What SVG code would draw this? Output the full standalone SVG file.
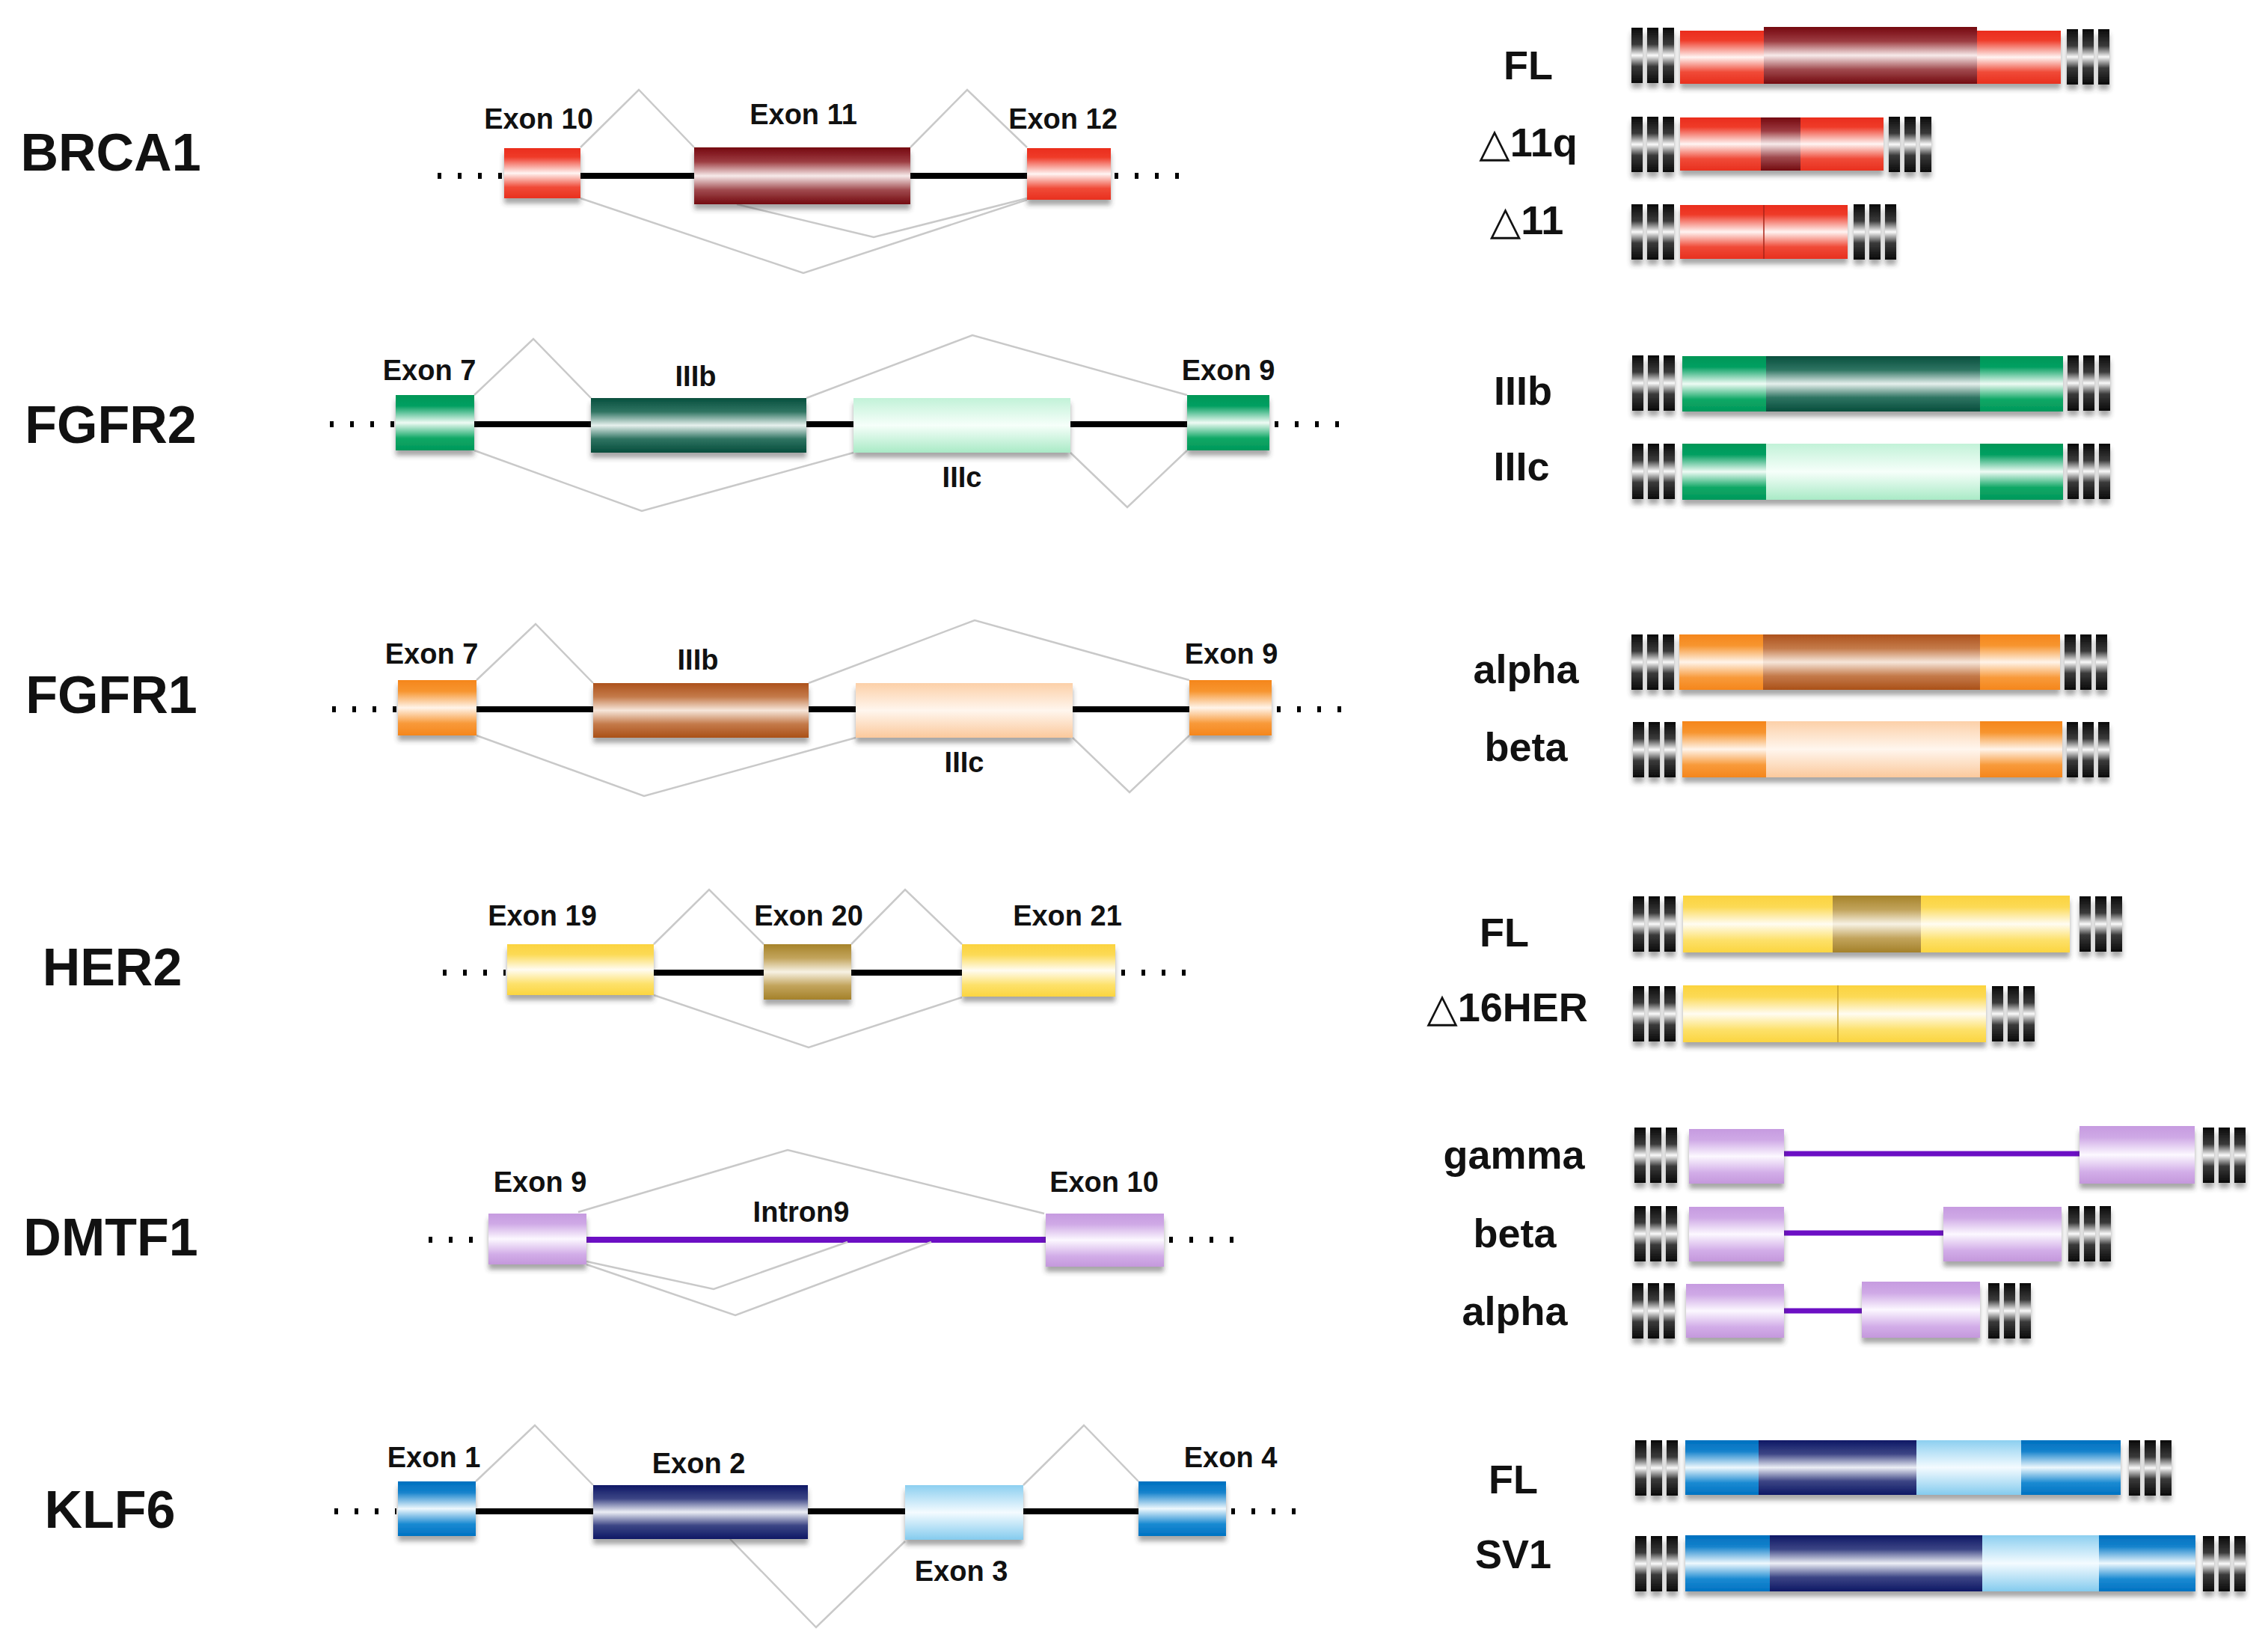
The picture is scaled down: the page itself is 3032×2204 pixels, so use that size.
<svg xmlns="http://www.w3.org/2000/svg" xmlns:xlink="http://www.w3.org/1999/xlink" width="3032" height="2204" viewBox="0 0 3032 2204">
<style>
.gene{font-family:"Liberation Sans",Arial,sans-serif;font-weight:bold;font-size:70px;text-anchor:middle;fill:#111}
.ex{font-family:"Liberation Sans",Arial,sans-serif;font-weight:bold;font-size:38px;text-anchor:middle;fill:#111}
.iso{font-family:"Liberation Sans",Arial,sans-serif;font-weight:bold;font-size:54px;text-anchor:middle;fill:#111}
.tri{font-family:"DejaVu Sans",sans-serif;font-weight:normal}
.splice{fill:none;stroke:#c9c9c9;stroke-width:2.5;stroke-linejoin:miter}
.intron{stroke:#000;stroke-width:8}
.pintron{stroke:#6c0fc4;stroke-width:8}
.dots{stroke:#000;stroke-width:8;stroke-dasharray:5 22}
.bx{filter:url(#sh)}
</style>
<defs>
<filter id="sh" x="-10%" y="-20%" width="120%" height="160%">
<feDropShadow dx="0" dy="7" stdDeviation="3" flood-color="#3a3a3a" flood-opacity="0.45"/>
</filter>
<linearGradient id="gRed" x1="0" y1="0" x2="0" y2="1"><stop offset="0" stop-color="#ea2d1d"/><stop offset="0.18" stop-color="#ef3b29"/><stop offset="0.5" stop-color="#fff4f2"/><stop offset="0.78" stop-color="#f04a37"/><stop offset="1" stop-color="#e8301f"/></linearGradient>
<linearGradient id="gDRed" x1="0" y1="0" x2="0" y2="1"><stop offset="0" stop-color="#750810"/><stop offset="0.25" stop-color="#9c3b40"/><stop offset="0.5" stop-color="#f7eaea"/><stop offset="0.75" stop-color="#a04a4e"/><stop offset="1" stop-color="#730a10"/></linearGradient>
<linearGradient id="gGreen" x1="0" y1="0" x2="0" y2="1"><stop offset="0" stop-color="#009656"/><stop offset="0.2" stop-color="#06a062"/><stop offset="0.5" stop-color="#eefbf4"/><stop offset="0.78" stop-color="#10a866"/><stop offset="1" stop-color="#00985a"/></linearGradient>
<linearGradient id="gDGreen" x1="0" y1="0" x2="0" y2="1"><stop offset="0" stop-color="#074f3e"/><stop offset="0.25" stop-color="#2f7462"/><stop offset="0.5" stop-color="#e6f0ed"/><stop offset="0.75" stop-color="#2f7462"/><stop offset="1" stop-color="#064d3c"/></linearGradient>
<linearGradient id="gMint" x1="0" y1="0" x2="0" y2="1"><stop offset="0" stop-color="#c2f2d8"/><stop offset="0.5" stop-color="#f6fffa"/><stop offset="1" stop-color="#a9eac6"/></linearGradient>
<linearGradient id="gOrange" x1="0" y1="0" x2="0" y2="1"><stop offset="0" stop-color="#f5861c"/><stop offset="0.2" stop-color="#f7952f"/><stop offset="0.5" stop-color="#fff4ea"/><stop offset="0.78" stop-color="#f89a3a"/><stop offset="1" stop-color="#f5861c"/></linearGradient>
<linearGradient id="gBrown" x1="0" y1="0" x2="0" y2="1"><stop offset="0" stop-color="#ad521c"/><stop offset="0.25" stop-color="#c47a4a"/><stop offset="0.5" stop-color="#f6e6da"/><stop offset="0.75" stop-color="#c47a4a"/><stop offset="1" stop-color="#aa5018"/></linearGradient>
<linearGradient id="gPeach" x1="0" y1="0" x2="0" y2="1"><stop offset="0" stop-color="#fcd0a8"/><stop offset="0.5" stop-color="#fff6ee"/><stop offset="1" stop-color="#fbc99c"/></linearGradient>
<linearGradient id="gYellow" x1="0" y1="0" x2="0" y2="1"><stop offset="0" stop-color="#fbd33f"/><stop offset="0.2" stop-color="#fcda55"/><stop offset="0.5" stop-color="#fffcf2"/><stop offset="0.78" stop-color="#fde16a"/><stop offset="1" stop-color="#fbd540"/></linearGradient>
<linearGradient id="gGold" x1="0" y1="0" x2="0" y2="1"><stop offset="0" stop-color="#a6832a"/><stop offset="0.25" stop-color="#c2a45c"/><stop offset="0.5" stop-color="#f7f2e4"/><stop offset="0.75" stop-color="#c2a45c"/><stop offset="1" stop-color="#a4812a"/></linearGradient>
<linearGradient id="gLav" x1="0" y1="0" x2="0" y2="1"><stop offset="0" stop-color="#c69be0"/><stop offset="0.2" stop-color="#cfa9e6"/><stop offset="0.5" stop-color="#fcf8ff"/><stop offset="0.8" stop-color="#d2ade8"/><stop offset="1" stop-color="#c498dc"/></linearGradient>
<linearGradient id="gBlue" x1="0" y1="0" x2="0" y2="1"><stop offset="0" stop-color="#0070bf"/><stop offset="0.2" stop-color="#1482cc"/><stop offset="0.5" stop-color="#eef8fd"/><stop offset="0.78" stop-color="#1a8ad2"/><stop offset="1" stop-color="#0072c2"/></linearGradient>
<linearGradient id="gNavy" x1="0" y1="0" x2="0" y2="1"><stop offset="0" stop-color="#0e1865"/><stop offset="0.25" stop-color="#3c4585"/><stop offset="0.5" stop-color="#eceef5"/><stop offset="0.75" stop-color="#3c4585"/><stop offset="1" stop-color="#0e1865"/></linearGradient>
<linearGradient id="gSky" x1="0" y1="0" x2="0" y2="1"><stop offset="0" stop-color="#8ccff0"/><stop offset="0.5" stop-color="#f4fbff"/><stop offset="1" stop-color="#84cbee"/></linearGradient>
<linearGradient id="gStripe" x1="0" y1="0" x2="0" y2="1"><stop offset="0" stop-color="#0a0a0a"/><stop offset="0.3" stop-color="#3a3a3a"/><stop offset="0.5" stop-color="#fafafa"/><stop offset="0.7" stop-color="#3a3a3a"/><stop offset="1" stop-color="#0a0a0a"/></linearGradient>
<g id="cap"><rect x="0" y="0" width="15" height="74" fill="url(#gStripe)"/><rect x="21" y="0" width="15" height="74" fill="url(#gStripe)"/><rect x="42" y="0" width="15" height="74" fill="url(#gStripe)"/></g>
</defs>
<rect x="0" y="0" width="3032" height="2204" fill="#ffffff"/>

<g id="connectors">
<!-- BRCA1 -->
<line class="dots" x1="585" y1="235" x2="671" y2="235"/>
<line class="dots" x1="1490" y1="235" x2="1576" y2="235"/>
<line class="intron" x1="776" y1="235" x2="928" y2="235"/>
<line class="intron" x1="1217" y1="235" x2="1373" y2="235"/>
<polyline class="splice" points="776,197 854,120 928,197"/>
<polyline class="splice" points="1217,197 1293,120 1373,197"/>
<polyline class="splice" points="776,265 1074,365 1373,267"/>
<polyline class="splice" points="985,273 1168,317 1373,265"/>
<!-- FGFR2 -->
<line class="dots" x1="441" y1="567" x2="527" y2="567"/>
<line class="dots" x1="1704" y1="567" x2="1790" y2="567"/>
<line class="intron" x1="634" y1="567" x2="1587" y2="567"/>
<polyline class="splice" points="634,528 713,453 790,532"/>
<polyline class="splice" points="1078,532 1300,448 1587,528"/>
<polyline class="splice" points="634,602 858,683 1141,605"/>
<polyline class="splice" points="1431,605 1507,678 1587,602"/>
<!-- FGFR1 -->
<g transform="translate(3,381)">
<line class="dots" x1="441" y1="567" x2="527" y2="567"/>
<line class="dots" x1="1704" y1="567" x2="1790" y2="567"/>
<line class="intron" x1="634" y1="567" x2="1587" y2="567"/>
<polyline class="splice" points="634,528 713,453 790,532"/>
<polyline class="splice" points="1078,532 1300,448 1587,528"/>
<polyline class="splice" points="634,602 858,683 1141,605"/>
<polyline class="splice" points="1431,605 1507,678 1587,602"/>
</g>
<!-- HER2 -->
<line class="dots" x1="592" y1="1300" x2="676" y2="1300"/>
<line class="dots" x1="1499" y1="1300" x2="1585" y2="1300"/>
<line class="intron" x1="874" y1="1300" x2="1286" y2="1300"/>
<polyline class="splice" points="874,1262 948,1189 1021,1262"/>
<polyline class="splice" points="1138,1262 1210,1189 1286,1262"/>
<polyline class="splice" points="874,1330 1081,1400 1286,1333"/>
<!-- DMTF1 -->
<line class="dots" x1="573" y1="1657" x2="637" y2="1657"/>
<line class="dots" x1="1563" y1="1657" x2="1649" y2="1657"/>
<line class="pintron" x1="784" y1="1657" x2="1398" y2="1657"/>
<polyline class="splice" points="773,1620 1053,1537 1396,1622"/>
<polyline class="splice" points="784,1686 954,1723 1133,1660"/>
<polyline class="splice" points="784,1690 983,1758 1245,1660"/>
<!-- KLF6 -->
<line class="dots" x1="447" y1="2020" x2="530" y2="2020"/>
<line class="dots" x1="1646" y1="2020" x2="1732" y2="2020"/>
<line class="intron" x1="636" y1="2020" x2="1522" y2="2020"/>
<polyline class="splice" points="636,1980 715,1905 793,1985"/>
<polyline class="splice" points="1368,1985 1449,1905 1522,1980"/>
<polyline class="splice" points="976,2057 1091,2175 1210,2060"/>
<!-- right-side introns -->
<line class="pintron" x1="2385" y1="1542" x2="2780" y2="1542" style="stroke-width:7"/>
<line class="pintron" x1="2385" y1="1648" x2="2598" y2="1648" style="stroke-width:7"/>
<line class="pintron" x1="2385" y1="1752" x2="2489" y2="1752" style="stroke-width:7"/>
</g>

<!-- Gene labels -->
<g id="gene-labels">
<text id="lbl-brca1" class="gene" x="148" y="228">BRCA1</text>
<text id="lbl-fgfr2" class="gene" x="148" y="592">FGFR2</text>
<text id="lbl-fgfr1" class="gene" x="149" y="953">FGFR1</text>
<text id="lbl-her2" class="gene" x="150" y="1317">HER2</text>
<text id="lbl-dmtf1" class="gene" x="148" y="1678">DMTF1</text>
<text id="lbl-klf6" class="gene" x="147" y="2042">KLF6</text>
</g>

<!-- BRCA1 exons -->
<g id="brca1-ex10"><rect class="bx" x="674" y="198" width="102" height="67" fill="url(#gRed)"/><text class="ex" x="720" y="172">Exon 10</text></g>
<g id="brca1-ex11"><rect class="bx" x="928" y="197" width="289" height="76" fill="url(#gDRed)"/><text class="ex" x="1074" y="166">Exon 11</text></g>
<g id="brca1-ex12"><rect class="bx" x="1373" y="198" width="112" height="69" fill="url(#gRed)"/><text class="ex" x="1421" y="172">Exon 12</text></g>

<!-- FGFR2 exons -->
<g id="fgfr2-ex7"><rect class="bx" x="529" y="528" width="105" height="74" fill="url(#gGreen)"/><text class="ex" x="574" y="508">Exon 7</text></g>
<g id="fgfr2-IIIb"><rect class="bx" x="790" y="532" width="288" height="73" fill="url(#gDGreen)"/><text class="ex" x="930" y="516">IIIb</text></g>
<g id="fgfr2-IIIc"><rect class="bx" x="1141" y="532" width="290" height="73" fill="url(#gMint)"/><text class="ex" x="1286" y="651">IIIc</text></g>
<g id="fgfr2-ex9"><rect class="bx" x="1587" y="528" width="110" height="74" fill="url(#gGreen)"/><text class="ex" x="1642" y="508">Exon 9</text></g>

<!-- FGFR1 exons -->
<g id="fgfr1-ex7"><rect class="bx" x="532" y="909" width="105" height="74" fill="url(#gOrange)"/><text class="ex" x="577" y="887">Exon 7</text></g>
<g id="fgfr1-IIIb"><rect class="bx" x="793" y="913" width="288" height="73" fill="url(#gBrown)"/><text class="ex" x="933" y="895">IIIb</text></g>
<g id="fgfr1-IIIc"><rect class="bx" x="1144" y="913" width="290" height="73" fill="url(#gPeach)"/><text class="ex" x="1289" y="1032">IIIc</text></g>
<g id="fgfr1-ex9"><rect class="bx" x="1590" y="909" width="110" height="74" fill="url(#gOrange)"/><text class="ex" x="1646" y="887">Exon 9</text></g>

<!-- HER2 exons -->
<g id="her2-ex19"><rect class="bx" x="678" y="1262" width="196" height="68" fill="url(#gYellow)"/><text class="ex" x="725" y="1237">Exon 19</text></g>
<g id="her2-ex20"><rect class="bx" x="1021" y="1262" width="117" height="74" fill="url(#gGold)"/><text class="ex" x="1081" y="1237">Exon 20</text></g>
<g id="her2-ex21"><rect class="bx" x="1286" y="1262" width="205" height="70" fill="url(#gYellow)"/><text class="ex" x="1427" y="1237">Exon 21</text></g>

<!-- DMTF1 exons -->
<g id="dmtf1-ex9"><rect class="bx" x="653" y="1622" width="131" height="68" fill="url(#gLav)"/><text class="ex" x="722" y="1593">Exon 9</text></g>
<g id="dmtf1-intron9"><text class="ex" x="1071" y="1633">Intron9</text></g>
<g id="dmtf1-ex10"><rect class="bx" x="1398" y="1622" width="158" height="71" fill="url(#gLav)"/><text class="ex" x="1476" y="1593">Exon 10</text></g>

<!-- KLF6 exons -->
<g id="klf6-ex1"><rect class="bx" x="532" y="1980" width="104" height="73" fill="url(#gBlue)"/><text class="ex" x="580" y="1961">Exon 1</text></g>
<g id="klf6-ex2"><rect class="bx" x="793" y="1985" width="287" height="72" fill="url(#gNavy)"/><text class="ex" x="934" y="1969">Exon 2</text></g>
<g id="klf6-ex3"><rect class="bx" x="1210" y="1985" width="158" height="73" fill="url(#gSky)"/><text class="ex" x="1285" y="2113">Exon 3</text></g>
<g id="klf6-ex4"><rect class="bx" x="1522" y="1980" width="117" height="73" fill="url(#gBlue)"/><text class="ex" x="1645" y="1961">Exon 4</text></g>

<!-- Isoforms: BRCA1 -->
<g id="iso-brca1-fl"><text class="iso" x="2043" y="106">FL</text>
<g class="bx"><use href="#cap" x="2181" y="37"/><rect x="2246" y="41" width="112" height="71" fill="url(#gRed)"/><rect x="2358" y="36" width="285" height="76" fill="url(#gDRed)"/><rect x="2643" y="41" width="112" height="71" fill="url(#gRed)"/><use href="#cap" x="2763" y="39"/></g></g>
<g id="iso-brca1-d11q"><text class="iso" x="2043" y="209"><tspan class="tri">△</tspan>11q</text>
<g class="bx"><use href="#cap" x="2181" y="156"/><rect x="2246" y="157" width="108" height="71" fill="url(#gRed)"/><rect x="2354" y="157" width="53" height="71" fill="url(#gDRed)"/><rect x="2407" y="157" width="111" height="71" fill="url(#gRed)"/><use href="#cap" x="2525" y="156"/></g></g>
<g id="iso-brca1-d11"><text class="iso" x="2041" y="313"><tspan class="tri">△</tspan>11</text>
<g class="bx"><use href="#cap" x="2181" y="273"/><rect x="2246" y="274" width="224" height="72" fill="url(#gRed)"/><line x1="2358" y1="274" x2="2358" y2="346" stroke="#a82418" stroke-width="1.5"/><use href="#cap" x="2478" y="273"/></g></g>

<!-- Isoforms: FGFR2 -->
<g id="iso-fgfr2-IIIb"><text class="iso" x="2036" y="541">IIIb</text>
<g class="bx"><use href="#cap" x="2182" y="475"/><rect x="2249" y="476" width="112" height="74" fill="url(#gGreen)"/><rect x="2361" y="476" width="286" height="74" fill="url(#gDGreen)"/><rect x="2647" y="476" width="111" height="74" fill="url(#gGreen)"/><use href="#cap" x="2764" y="475"/></g></g>
<g id="iso-fgfr2-IIIc"><text class="iso" x="2034" y="642">IIIc</text>
<g class="bx"><use href="#cap" x="2182" y="593"/><rect x="2249" y="593" width="112" height="75" fill="url(#gGreen)"/><rect x="2361" y="593" width="286" height="75" fill="url(#gMint)"/><rect x="2647" y="593" width="111" height="75" fill="url(#gGreen)"/><use href="#cap" x="2764" y="593"/></g></g>

<!-- Isoforms: FGFR1 -->
<g id="iso-fgfr1-alpha"><text class="iso" x="2040" y="913">alpha</text>
<g class="bx"><use href="#cap" x="2181" y="848"/><rect x="2245" y="848" width="112" height="74" fill="url(#gOrange)"/><rect x="2357" y="848" width="290" height="74" fill="url(#gBrown)"/><rect x="2647" y="848" width="107" height="74" fill="url(#gOrange)"/><use href="#cap" x="2760" y="848"/></g></g>
<g id="iso-fgfr1-beta"><text class="iso" x="2040" y="1017">beta</text>
<g class="bx"><use href="#cap" x="2183" y="965"/><rect x="2249" y="964" width="112" height="75" fill="url(#gOrange)"/><rect x="2361" y="964" width="286" height="75" fill="url(#gPeach)"/><rect x="2647" y="964" width="110" height="75" fill="url(#gOrange)"/><use href="#cap" x="2763" y="965"/></g></g>

<!-- Isoforms: HER2 -->
<g id="iso-her2-fl"><text class="iso" x="2011" y="1265">FL</text>
<g class="bx"><use href="#cap" x="2183" y="1198"/><rect x="2250" y="1197" width="200" height="76" fill="url(#gYellow)"/><rect x="2450" y="1197" width="118" height="76" fill="url(#gGold)"/><rect x="2568" y="1197" width="199" height="76" fill="url(#gYellow)"/><use href="#cap" x="2780" y="1198"/></g></g>
<g id="iso-her2-d16"><text class="iso" x="2015" y="1365"><tspan class="tri">△</tspan>16HER</text>
<g class="bx"><use href="#cap" x="2183" y="1318"/><rect x="2250" y="1317" width="405" height="76" fill="url(#gYellow)"/><line x1="2457" y1="1317" x2="2457" y2="1393" stroke="#c9a22c" stroke-width="1.5"/><use href="#cap" x="2663" y="1318"/></g></g>

<!-- Isoforms: DMTF1 -->
<g id="iso-dmtf1-gamma"><text class="iso" x="2024" y="1562">gamma</text>
<g class="bx"><use href="#cap" x="2185" y="1507"/><rect x="2258" y="1509" width="127" height="73" fill="url(#gLav)"/><rect x="2780" y="1505" width="154" height="77" fill="url(#gLav)"/><use href="#cap" x="2945" y="1507"/></g></g>
<g id="iso-dmtf1-beta"><text class="iso" x="2025" y="1667">beta</text>
<g class="bx"><use href="#cap" x="2185" y="1612"/><rect x="2258" y="1613" width="127" height="73" fill="url(#gLav)"/><rect x="2598" y="1613" width="158" height="73" fill="url(#gLav)"/><use href="#cap" x="2765" y="1612"/></g></g>
<g id="iso-dmtf1-alpha"><text class="iso" x="2025" y="1771">alpha</text>
<g class="bx"><use href="#cap" x="2182" y="1715"/><rect x="2254" y="1716" width="131" height="72" fill="url(#gLav)"/><rect x="2489" y="1713" width="158" height="75" fill="url(#gLav)"/><use href="#cap" x="2658" y="1715"/></g></g>

<!-- Isoforms: KLF6 -->
<g id="iso-klf6-fl"><text class="iso" x="2023" y="1996">FL</text>
<g class="bx"><use href="#cap" x="2186" y="1925"/><rect x="2253" y="1925" width="98" height="73" fill="url(#gBlue)"/><rect x="2351" y="1925" width="211" height="73" fill="url(#gNavy)"/><rect x="2562" y="1925" width="140" height="73" fill="url(#gSky)"/><rect x="2702" y="1925" width="133" height="73" fill="url(#gBlue)"/><use href="#cap" x="2846" y="1925"/></g></g>
<g id="iso-klf6-sv1"><text class="iso" x="2023" y="2096">SV1</text>
<g class="bx"><use href="#cap" x="2186" y="2053"/><rect x="2253" y="2052" width="113" height="75" fill="url(#gBlue)"/><rect x="2366" y="2052" width="284" height="75" fill="url(#gNavy)"/><rect x="2650" y="2052" width="156" height="75" fill="url(#gSky)"/><rect x="2806" y="2052" width="129" height="75" fill="url(#gBlue)"/><use href="#cap" x="2945" y="2053"/></g></g>
</svg>
